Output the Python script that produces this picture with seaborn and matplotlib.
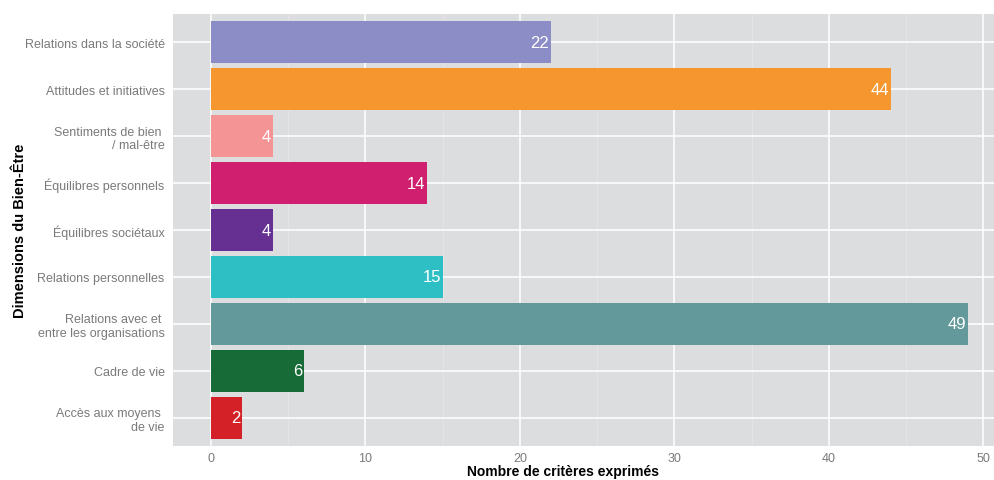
import pandas as pd
import matplotlib.pyplot as plt
import seaborn as sns

# données
dimensions = ['Relations dans la société', 'Attitudes et initiatives', 'Sentiments de bien \n/ mal-être',
              'Équilibres personnels', 'Équilibres sociétaux', 'Relations personnelles',
              'Relations avec et \nentre les organisations', 'Cadre de vie', 'Accès aux moyens \nde vie']
nb_criteres = [22, 44, 4, 14, 4, 15, 49, 6, 2]
couleurs = ['#8c8cc6', '#f5962e', '#f59494', '#cf1f6e', '#663092', '#2ebfc4', '#63999b', '#176b37', '#d42027']

df = pd.DataFrame({'Dimension': dimensions, 'Nombre': nb_criteres})

sns.set_theme(style='darkgrid', rc={'axes.facecolor': '#dcdddf', 'grid.color': 'white'})
plt.rcParams['font.family'] = ['Liberation Sans', 'DejaVu Sans']

fig = plt.figure(figsize=(9.95, 4.81), dpi=100)
ax = fig.add_axes([0.1739, 0.0707, 0.837, 0.8981])

sns.barplot(data=df, x='Nombre', y='Dimension', hue='Dimension', palette=couleurs,
            legend=False, width=0.9, saturation=1, linewidth=0, ax=ax)

# étiquettes dans les barres
for i, v in enumerate(nb_criteres):
    ax.text(v - 0.1, i, str(v), color='white', ha='right', va='center', fontsize=12)

ax.set_xlim(-2.45, 51.45)
ax.set_ylim(8.6, -0.6)
ax.set_xticks([0, 10, 20, 30, 40, 50])
ax.set_xticks([5, 15, 25, 35, 45], minor=True)
ax.grid(True, which='major', color='white', linewidth=1.1)
ax.grid(True, which='minor', axis='x', color='#e6e6e8', linewidth=0.6)
ax.set_axisbelow(True)
for s in ax.spines.values():
    s.set_visible(False)

ax.tick_params(axis='both', which='major', length=3, width=0.8, color='#8a8a8a',
               labelcolor='#7a7a7a', labelsize=9, pad=3)
ax.tick_params(axis='x', which='major', pad=1.5)
ax.tick_params(axis='x', which='minor', length=0)
ax.set_xlabel('Nombre de critères exprimés', fontsize=10, fontweight='bold', color='black')
ax.set_ylabel('Dimensions du Bien-Être', fontsize=10.5, fontweight='bold', color='black')
ax.xaxis.set_label_coords(0.4688, -0.057)
ax.xaxis.label.set_va('center')
ax.yaxis.set_label_coords(-0.184, 0.5)
ax.yaxis.label.set_va('center')

fig.savefig('out.png', dpi=100, facecolor='white')
